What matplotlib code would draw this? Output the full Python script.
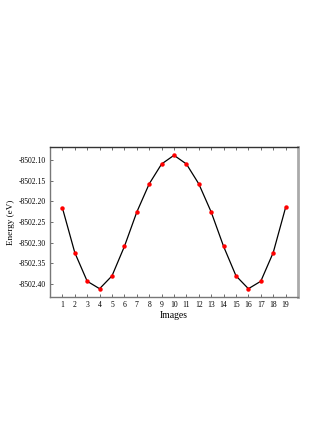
import matplotlib
matplotlib.use("Agg")
import matplotlib.pyplot as plt

images = list(range(1, 20))
energy = [-8502.216, -8502.324, -8502.393, -8502.411, -8502.380, -8502.309,
          -8502.226, -8502.158, -8502.110, -8502.089, -8502.110, -8502.158,
          -8502.226, -8502.309, -8502.380, -8502.411, -8502.393, -8502.324,
          -8502.215]
yticks = [-8502.40, -8502.35, -8502.30, -8502.25, -8502.20, -8502.15, -8502.10]
ytick_labels = ["-8502.40", "-8502.35", "-8502.30", "-8502.25", "-8502.20", "-8502.15", "-8502.10"]

plt.rcParams['font.family'] = ['Liberation Serif', 'DejaVu Serif']

fig = plt.figure(figsize=(3.32, 4.30), dpi=100)
ax = fig.add_axes([50/332, 1-297/430, 248/332, 150/430])

ax.plot(images, energy, color='black', lw=0.9, zorder=2)
ax.plot(images, energy, 'o', color='red', ms=2.2, zorder=3)

ax.set_xlim(0, 20)
ax.set_ylim(-8502.431, -8502.069)
ax.set_xticks(images)
ax.set_xticklabels([str(i) for i in images])
ax.set_yticks(yticks)
ax.set_yticklabels(ytick_labels)
ax.tick_params(direction='in', labelsize=5.5, length=2.5, width=0.6, color='#555555',
               top=True, right=False, pad=3)
ax.set_xlabel("Images", fontsize=7, labelpad=1)
ax.set_ylabel("Energy (eV)", fontsize=6.6, labelpad=3)

for side in ['left', 'bottom']:
    ax.spines[side].set_color('#777777')
    ax.spines[side].set_linewidth(1.0)
ax.spines['top'].set_color('#333333')
ax.spines['top'].set_linewidth(1.0)
ax.spines['right'].set_color('#aaaaaa')
ax.spines['right'].set_linewidth(2.0)

fig.savefig("out.png", dpi=100)
